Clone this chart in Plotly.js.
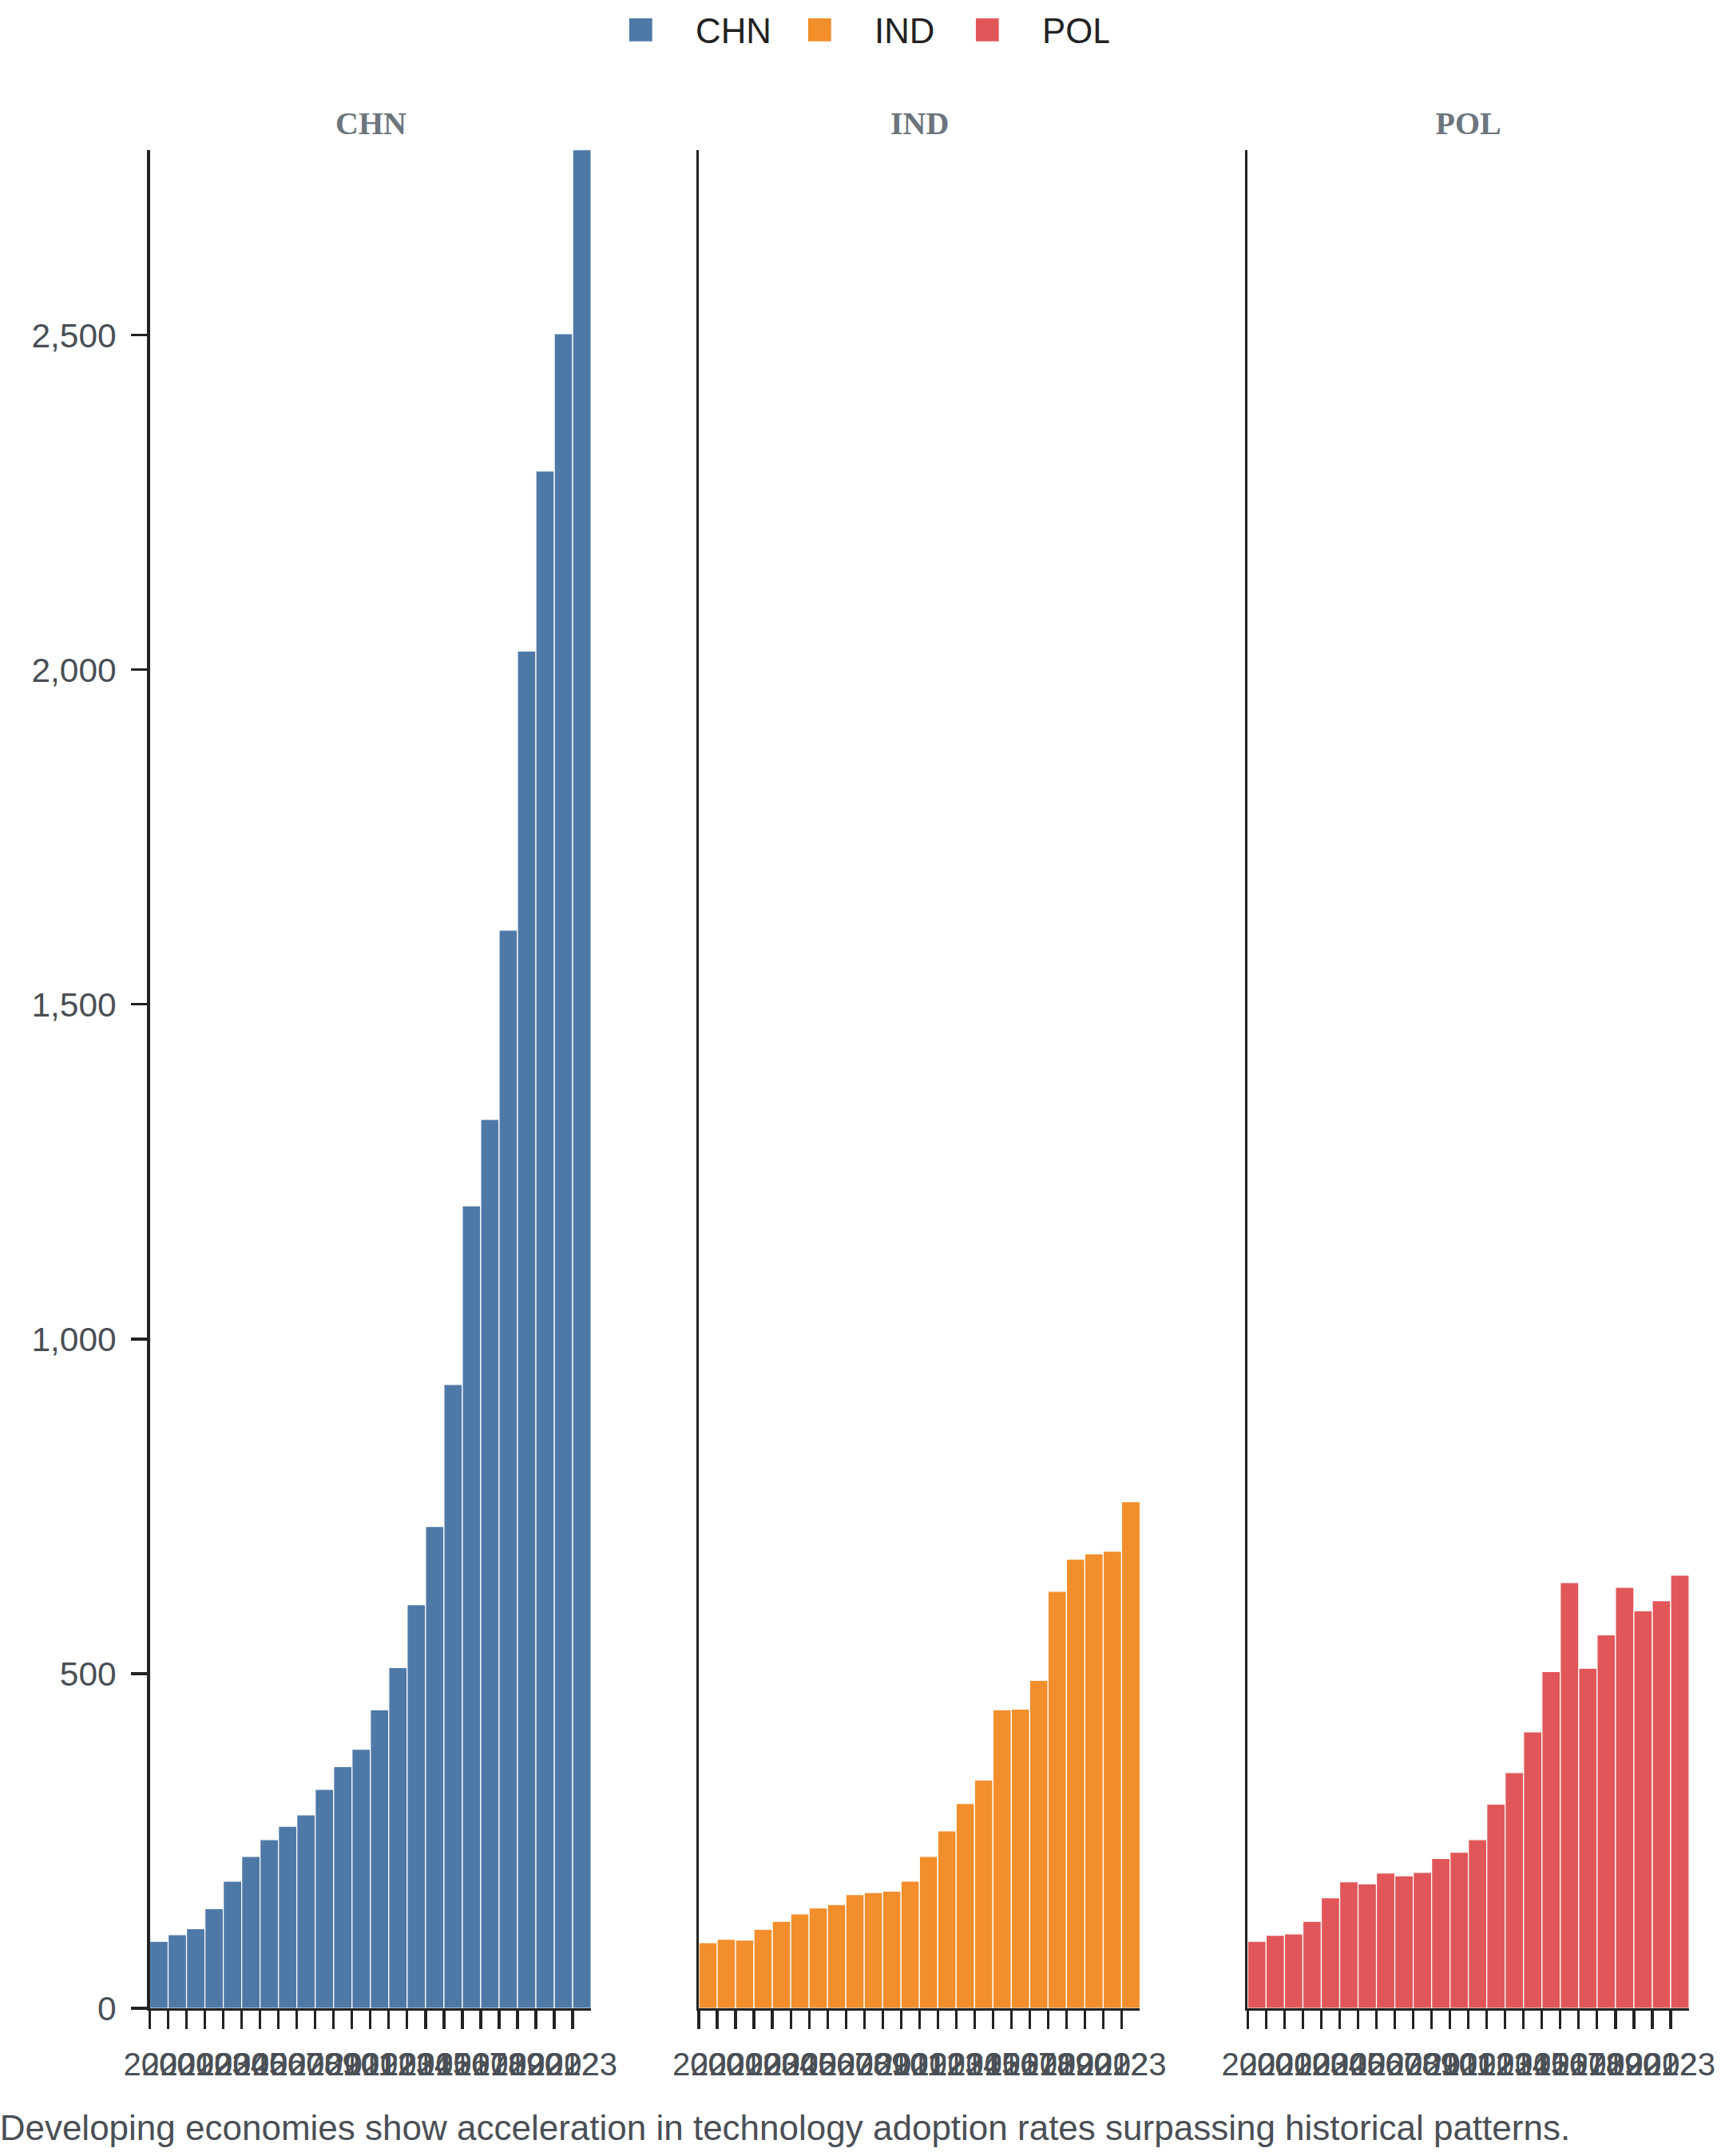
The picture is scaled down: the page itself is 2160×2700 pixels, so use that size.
<!DOCTYPE html>
<html>
<head>
<meta charset="utf-8">
<script src="https://cdn.plot.ly/plotly-3.0.1.min.js"></script>
<style>
  html, body { margin: 0; padding: 0; background: #ffffff; }
  #chart { width: 864px; height: 1080px; }
</style>
</head>
<body>
<div id="chart"></div>
<script>
// --- data ---
const years = ['2000', '2001', '2002', '2003', '2004', '2005', '2006', '2007', '2008', '2009', '2010', '2011',
               '2012', '2013', '2014', '2015', '2016', '2017', '2018', '2019', '2020', '2021', '2022', '2023'];
const countries = ['CHN', 'IND', 'POL'];
const chnValues = [100, 110, 119, 149, 190, 227, 252, 272, 289, 327, 361, 387,
                   446, 509, 603, 720, 932, 1199, 1328, 1611, 2028, 2297, 2502, 2777];
const indValues = [98, 103, 102, 118, 130, 141, 150, 155, 170, 173, 175, 190,
                   227, 265, 306, 341, 446, 447, 490, 623, 671, 679, 683, 757];
const polValues = [100, 109, 111, 130, 165, 189, 186, 202, 198, 203, 224, 233,
                   252, 305, 352, 413, 503, 636, 508, 558, 629, 594, 609, 647];
const yTicks = [0, 500, 1000, 1500, 2000, 2500];
const yMax = 2777;
const caption = 'Developing economies show acceleration in technology adoption rates surpassing historical patterns.';

// --- style ---
const seriesColors = ['#4e79a7', '#f28e2b', '#e15759'];
const legendWidths = [29.6, 24, 28];
const textColor = '#4a4f55';
const lineColor = '#222222';
const domains = [[0, 0.2867], [0.3567, 0.6433], [0.7133, 1]];

// base figure size; the svg is scaled up to the 2160x2700 page afterwards
const baseW = 864, baseH = 1080, outScale = 2.5;

function drawFacetBars() {
    const allValues = [chnValues, indValues, polValues];

    const traces = countries.map((name, i) => ({
        type: 'bar',
        name: name,
        x: years,
        y: allValues[i],
        xaxis: i === 0 ? 'x' : 'x' + (i + 1),
        yaxis: i === 0 ? 'y' : 'y' + (i + 1),
        legendwidth: legendWidths[i],
        marker: { color: seriesColors[i], line: { color: '#ffffff', width: 0.5 } },
        hoverinfo: 'x+y'
    }));

    const layout = {
        width: baseW,
        height: baseH,
        margin: { l: 75, r: 18, t: 75, b: 74, autoexpand: false },
        paper_bgcolor: '#ffffff',
        plot_bgcolor: '#ffffff',
        font: { family: 'Arial, "Liberation Sans", sans-serif', size: 15, color: textColor },
        bargap: 0,
        showlegend: true,
        legend: {
            orientation: 'h',
            x: 0.4532, xanchor: 'center',
            y: 1.0644, yanchor: 'middle',
            itemwidth: 45,
            font: { size: 17.5, color: '#222222' }
        },
        annotations: [],
        hovermode: 'closest'
    };

    countries.forEach((name, i) => {
        const sfx = i === 0 ? '' : String(i + 1);
        layout['xaxis' + sfx] = {
            type: 'category',
            domain: domains[i],
            anchor: 'y' + sfx,
            showline: true, linecolor: lineColor, linewidth: 1.3,
            ticks: 'outside', ticklen: 9, tickwidth: 1.3, tickcolor: lineColor,
            tickson: 'boundaries',
            tickmode: 'linear', dtick: 1,
            tickangle: 0,
            ticklabelstandoff: 13,   // integer only
            tickfont: { size: 16, color: textColor },
            showgrid: false, zeroline: false
        };
        layout['yaxis' + sfx] = {
            anchor: 'x' + sfx,
            range: [0, yMax],
            showline: true, linecolor: lineColor, linewidth: 1.3,
            tickmode: 'array', tickvals: yTicks,
            tickformat: ',',
            ticks: i === 0 ? 'outside' : '',
            ticklen: 8, tickwidth: 1.3, tickcolor: lineColor,
            ticklabelstandoff: 4,
            showticklabels: i === 0,
            tickfont: { size: 17, color: textColor },
            showgrid: false, zeroline: false
        };
        // facet title
        layout.annotations.push({
            text: '<b>' + name + '</b>',
            xref: 'paper', yref: 'paper',
            x: (domains[i][0] + domains[i][1]) / 2, y: 1.014,
            xanchor: 'center', yanchor: 'middle',
            showarrow: false,
            font: { family: '"Liberation Serif", "Times New Roman", serif', size: 16, color: '#6c757d' }
        });
    });

    // caption under the chart
    layout.annotations.push({
        text: caption,
        xref: 'paper', yref: 'paper',
        x: -0.0996, y: -0.0645,
        xanchor: 'left', yanchor: 'middle',
        showarrow: false,
        font: { size: 17.6, color: textColor }
    });

    Plotly.newPlot('chart', traces, layout, { displayModeBar: false, staticPlot: true }).then(function (gd) {
        // scale the vector output up, like an export at scale 2.5
        const outW = baseW * outScale, outH = baseH * outScale;
        gd.querySelectorAll('svg.main-svg').forEach(function (svg) {
            svg.setAttribute('viewBox', '0 0 ' + baseW + ' ' + baseH);
            svg.setAttribute('width', outW);
            svg.setAttribute('height', outH);
        });
        const container = gd.querySelector('.svg-container');
        container.style.width = outW + 'px';
        container.style.height = outH + 'px';
        gd.style.width = outW + 'px';
        gd.style.height = outH + 'px';
    });
}

drawFacetBars();
</script>
</body>
</html>
